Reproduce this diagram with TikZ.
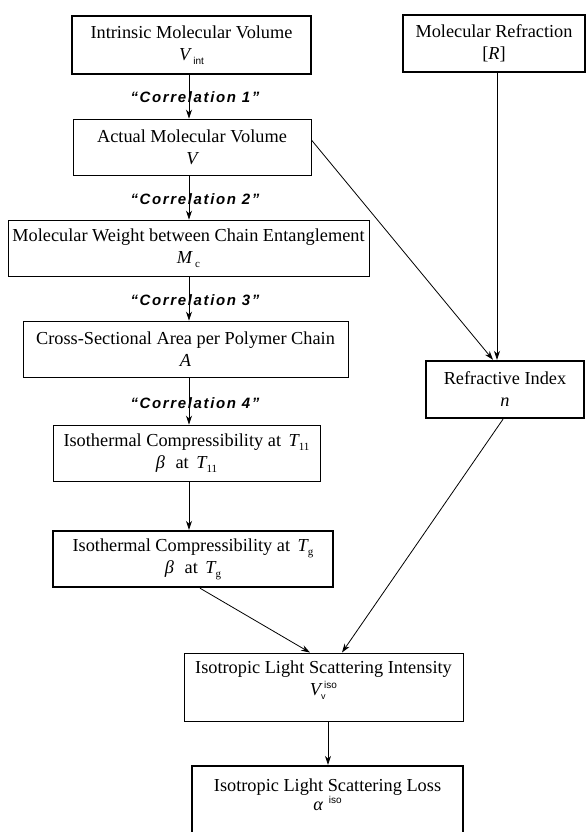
\documentclass[tikz,border=0pt]{standalone}
\usepackage{fontspec}
\setmainfont{Liberation Serif}
\setsansfont{Liberation Sans}
\newfontfamily\corrfont[LetterSpace=11]{Liberation Sans}
\usetikzlibrary{arrows.meta}
\newcommand\dsub[1]{\raisebox{-4pt}{\fontsize{11}{11}\selectfont #1}}
\newcommand\dsup[1]{\raisebox{7pt}{\fontsize{10}{10}\selectfont #1}}
\begin{document}
\begin{tikzpicture}[x=1pt,y=-1pt,
  box/.style={draw, line width=0.9pt, rectangle, align=center, inner sep=0pt,
    font=\fontsize{18.3}{22}\selectfont},
  thickbox/.style={box, line width=2.4pt},
  plain/.style={align=center, inner sep=0pt, font=\fontsize{18.3}{22}\selectfont},
  corr/.style={font=\corrfont\bfseries\itshape\fontsize{15}{15}\selectfont, inner sep=0pt},
  arr/.style={-{Stealth[length=9pt,width=6pt]}, line width=0.8pt}]
\useasboundingbox (0,0) rectangle (587,832);
% column coordinates
\coordinate (cx) at (189,0);
\coordinate (ca) at (493,0);
\coordinate (cb) at (497,0);
\coordinate (cc) at (200,0);
\coordinate (cd) at (310,0);
\coordinate (ce) at (503,0);
\coordinate (cf) at (342,0);
\coordinate (cg) at (328,0);
% boxes
\node[thickbox, minimum width=239pt, minimum height=58pt] (b1) at (191.5,45)
  {Intrinsic Molecular Volume\\ {\itshape V}\,\dsub{\sffamily\fontsize{10}{10}\selectfont int}};
\node[thickbox, minimum width=182pt, minimum height=57pt] (mr) at (494,43.5)
  {Molecular Refraction\\ {[}{\itshape R}{]}};
\node[box, minimum width=238pt, minimum height=56pt] (b2) at (192,147)
  {Actual Molecular Volume\\ {\itshape V}};
\node[box, minimum width=361pt, minimum height=56pt] (b3) at (188.5,248)
  {Molecular Weight between Chain Entanglement\\ {\itshape M}\,\dsub{c}};
\node[box, minimum width=325pt, minimum height=56pt] (b4) at (185.5,349)
  {Cross-Sectional Area per Polymer Chain\\ {\itshape A}};
\node[box, minimum width=267pt, minimum height=56pt] (b5) at (186.5,453)
  {Isothermal Compressibility at \,{\itshape T}\dsub{11}\\ {\itshape β}\,\, at \,{\itshape T}\dsub{11}};
\node[thickbox, minimum width=280pt, minimum height=56pt] (b6) at (193,559)
  {Isothermal Compressibility at \,{\itshape T}\dsub{g}\\ {\itshape β}\,\, at \,{\itshape T}\dsub{g}};
\node[thickbox, minimum width=158pt, minimum height=57pt] (ri) at (505,389.5)
  {Refractive Index\\ {\itshape n}};
\node[box, minimum width=279pt, minimum height=68pt] (b8) at (323.5,687) {};
\node[plain, anchor=north] (b8t) at ([yshift=-8pt]b8.north)
  {Isotropic Light Scattering Intensity\\ {\itshape V}\dsub{\sffamily\fontsize{9}{9}\selectfont\rlap{v}}\,\dsup{\sffamily iso}};
\node[thickbox, minimum width=271pt, minimum height=80pt] (b9) at (327.5,806) {};
\node[plain, anchor=north] (b9t) at ([yshift=-14pt]b9.north)
  {Isotropic Light Scattering Loss\\[-3pt] {\itshape α}\,\,\dsup{\sffamily iso}};
% correlation labels
\node[corr] (c1) at (195,97) {“Correlation 1”};
\node[corr] (c2) at (195,199) {“Correlation 2”};
\node[corr] (c3) at (195,300) {“Correlation 3”};
\node[corr] (c4) at (195,403) {“Correlation 4”};
% connectors
\draw[arr] (b1.south -| cx) -- (b2.north -| cx);
\draw[arr] (b2.south -| cx) -- (b3.north -| cx);
\draw[arr] (b3.south -| cx) -- (b4.north -| cx);
\draw[arr] (b4.south -| cx) -- (b5.north -| cx);
\draw[arr] (b5.south -| cx) -- (b6.north -| cx);
\draw[arr] ([yshift=7pt]b2.east) -- (ri.north -| ca);
\draw[arr] (mr.south -| cb) -- (ri.north -| cb);
\draw[arr] (b6.south -| cc) -- (b8.north -| cd);
\draw[arr] (ri.south -| ce) -- (b8.north -| cf);
\draw[arr] (b8.south -| cg) -- (b9.north -| cg);
\end{tikzpicture}
\end{document}
